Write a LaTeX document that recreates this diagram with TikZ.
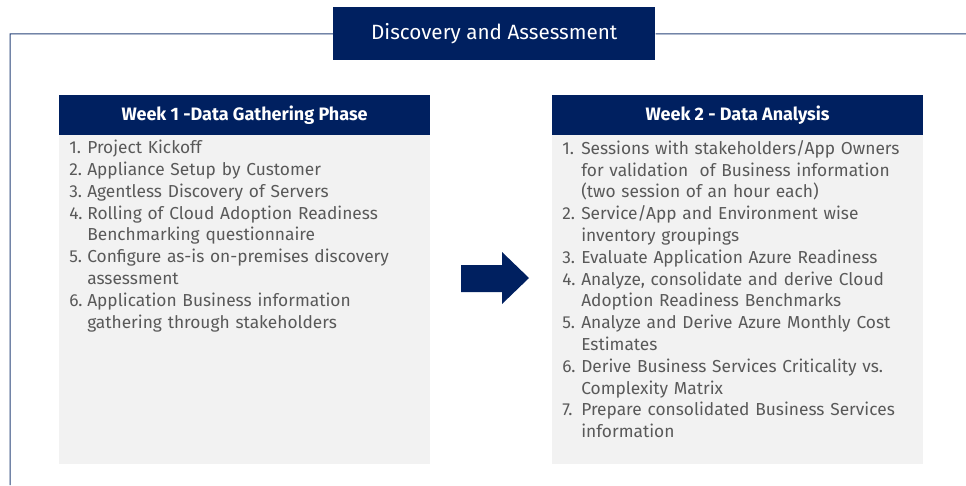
\documentclass[tikz,border=0pt]{standalone}
\usepackage{fontspec}
\setmainfont{Fira Sans}
\usetikzlibrary{positioning}
\definecolor{navy}{RGB}{0,32,96}
\definecolor{boxgray}{RGB}{242,242,242}
\definecolor{txtgray}{RGB}{89,89,89}
% numbered item with hanging lines
\newcommand{\itm}[3]{\hangindent=#1\hangafter=1\noindent\makebox[#1][l]{#2}#3\par}
\tikzset{
  header/.style={fill=navy,text=white,font=\bfseries\fontsize{13.5}{15}\selectfont,
    minimum width=278pt,minimum height=30pt,inner sep=0pt,anchor=north west},
  body/.style={fill=boxgray,minimum width=278pt,minimum height=247pt,inner sep=0pt,anchor=north west},
  items/.style={text=txtgray,font=\fontsize{13}{16.35}\selectfont,text width=290pt,
    align=left,inner sep=0pt,anchor=north west}
}
\begin{document}
\begin{tikzpicture}[x=0.75pt,y=-0.75pt]
  \useasboundingbox (0,0) rectangle (966,485);

  %title
  \node[fill=navy,text=white,font=\fontsize{15.5}{18}\selectfont,minimum width=241.5pt,
    minimum height=39.75pt,inner sep=0pt,anchor=north west] (title) at (333,7) {Discovery and Assessment};
  %frame
  \draw[navy!85,line width=0.75pt] (10,485) -- (10,34) -- (title.west);
  \draw[navy!85,line width=0.75pt] (title.east) -- (966,34);

  % week 1
  \node[body] (wk1body) at (59,134) {};
  \node[header] (wk1head) at (59,95) {Week 1 -Data Gathering Phase};
  \node[items] (wk1list) at (69,140) {%
    \itm{13.5pt}{1.}{Project Kickoff}
    \itm{13.5pt}{2.}{Appliance Setup by Customer}
    \itm{13.5pt}{3.}{Agentless Discovery of Servers}
    \itm{13.5pt}{4.}{Rolling of Cloud Adoption Readiness\newline Benchmarking questionnaire}
    \itm{13.5pt}{5.}{Configure as-is on-premises discovery\newline assessment}
    \itm{13.5pt}{6.}{Application Business information\newline gathering through stakeholders}};

  % week 2
  \node[body] (wk2body) at (552,134) {};
  \node[header] (wk2head) at (552,95) {Week 2 - Data Analysis};
  \node[items] (wk2list) at (562,140) {%
    \itm{14.25pt}{1.}{Sessions with stakeholders/App Owners\newline for validation~ of Business information\newline (two session of an hour each)}
    \itm{14.25pt}{2.}{Service/App and Environment wise\newline inventory groupings}
    \itm{14.25pt}{3.}{Evaluate Application Azure Readiness}
    \itm{14.25pt}{4.}{Analyze, consolidate and derive Cloud\newline Adoption Readiness Benchmarks}
    \itm{14.25pt}{5.}{Analyze and Derive Azure Monthly Cost\newline Estimates}
    \itm{14.25pt}{6.}{Derive Business Services Criticality vs.\newline Complexity Matrix}
    \itm{14.25pt}{7.}{Prepare consolidated Business Services\newline information}};

  %arrow
  \fill[navy] (461,265) -- (502,265) -- (502,252) -- (529,278) -- (502,304) -- (502,292) -- (461,292) -- cycle;

\end{tikzpicture}
\end{document}
